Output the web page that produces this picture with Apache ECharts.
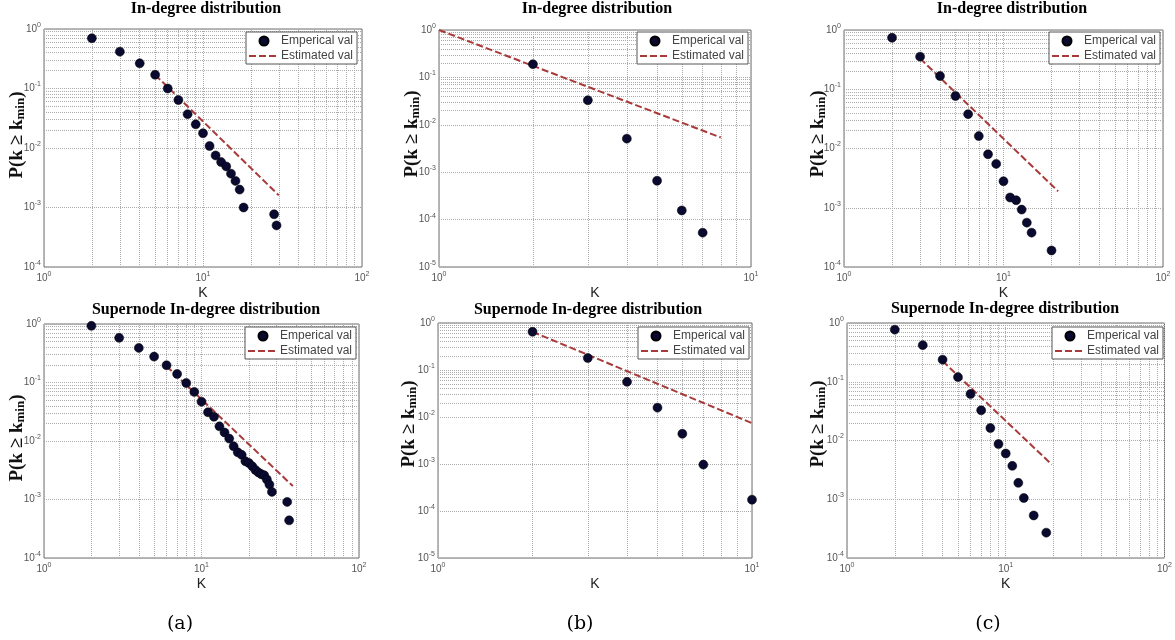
<!DOCTYPE html>
<html>
<head>
<meta charset="utf-8">
<script src="https://cdn.jsdelivr.net/npm/echarts@6/dist/echarts.min.js"></script>
<style>
  html, body { margin: 0; padding: 0; background: #fff; }
  #chart { width: 1175px; height: 640px; }
</style>
</head>
<body>
<div id="chart"></div>
<script>
// ---------------- DATA ----------------
// Row 1: "In-degree distribution"
const topA_k = [2, 3, 4, 5, 6, 7, 8, 9, 10, 11, 12, 13, 14, 15, 16, 17, 18, 28, 29];
const topA_p = [0.70, 0.416, 0.265, 0.17, 0.10, 0.064, 0.037, 0.025, 0.0177, 0.0108, 0.0075, 0.0058, 0.0049, 0.0037, 0.0028, 0.0020, 0.00100, 0.00077, 0.00050];
const topA_fitK = [5, 30];
const topA_fitP = [0.17, 0.0016];

const topB_k = [2, 3, 4, 5, 6, 7];
const topB_p = [0.19, 0.033, 0.0051, 0.00066, 0.000156, 0.000053];
const topB_fitK = [1, 8];
const topB_fitP = [1.0, 0.0054];

const topC_k = [2, 3, 4, 5, 6, 7, 8, 9, 10, 11, 12, 13, 14, 15, 20];
const topC_p = [0.74, 0.355, 0.167, 0.077, 0.038, 0.0162, 0.0080, 0.0055, 0.0028, 0.00149, 0.00134, 0.00093, 0.00056, 0.00038, 0.00019];
const topC_fitK = [3, 22];
const topC_fitP = [0.33, 0.0019];

// Row 2: "Supernode In-degree distribution"
const botA_k = [2, 3, 4, 5, 6, 7, 8, 9, 10, 11, 12, 13, 14, 15, 16, 17, 18, 19, 20, 21, 22, 23, 24, 25, 26, 27, 28, 35, 36];
const botA_p = [0.93, 0.58, 0.39, 0.277, 0.197, 0.14, 0.098, 0.069, 0.047, 0.031, 0.026, 0.0178, 0.014, 0.011, 0.0081, 0.0064, 0.0058, 0.0045, 0.0042, 0.0037, 0.0032, 0.0029, 0.0027, 0.0026, 0.0022, 0.0018, 0.00135, 0.00091, 0.00044];
const botA_fitK = [6, 38];
const botA_fitP = [0.19, 0.0017];

const botB_k = [2, 3, 4, 5, 6, 7, 10];
const botB_p = [0.65, 0.18, 0.056, 0.0158, 0.0044, 0.00097, 0.000174];
const botB_fitK = [2, 10];
const botB_fitP = [0.65, 0.0074];

const botC_k = [2, 3, 4, 5, 6, 7, 8, 9, 10, 11, 12, 13, 15, 18];
const botC_p = [0.77, 0.42, 0.238, 0.12, 0.062, 0.0327, 0.0163, 0.0087, 0.006, 0.0037, 0.0019, 0.00105, 0.00053, 0.00027];
const botC_fitK = [4, 19.5];
const botC_fitP = [0.225, 0.0039];

// axis ranges
const xMaxes = [100, 10, 100, 100, 10, 100];
const yMins = [1e-4, 1e-5, 1e-4, 1e-4, 1e-5, 1e-4];

// texts
const titles = ['In-degree distribution', 'In-degree distribution', 'In-degree distribution',
  'Supernode In-degree distribution', 'Supernode In-degree distribution', 'Supernode In-degree distribution'];
const captions = ['(a)', '(b)', '(c)'];
const seriesNames = ['Emperical val', 'Estimated val'];
const xName = 'K';
const yName = 'P(k ≥ k{m|min})';

// ---------------- LAYOUT ----------------
const grids = [
  { left: 44, top: 29, width: 318, height: 238 },
  { left: 439, top: 30, width: 312, height: 237 },
  { left: 844, top: 30, width: 319, height: 237 },
  { left: 44, top: 324, width: 315, height: 234 },
  { left: 438, top: 323, width: 314, height: 235 },
  { left: 847, top: 323, width: 318, height: 235 }
];
const titlePos = [[206, 9], [597, 9], [1012, 9], [206, 310], [588, 310], [1005, 309]];
const legendPos = [[246, 32], [637, 32], [1049, 32], [245, 327], [638, 327], [1052, 327]];
const yNamePos = [[17, 135], [412, 134], [818, 134], [17, 438], [409, 424], [818, 424]];
const captionPos = [[180, 624], [580, 624], [988, 624]];

const panels = [
  [topA_k, topA_p, topA_fitK, topA_fitP],
  [topB_k, topB_p, topB_fitK, topB_fitP],
  [topC_k, topC_p, topC_fitK, topC_fitP],
  [botA_k, botA_p, botA_fitK, botA_fitP],
  [botB_k, botB_p, botB_fitK, botB_fitP],
  [botC_k, botC_p, botC_fitK, botC_fitP]
];

// ---------------- STYLE ----------------
const gridColor = '#ababab';
const dotColor = '#0a0a30';
const fitColor = '#a83a3a';
const tickRich = {
  b: { fontSize: 10, color: '#555', fontFamily: 'Liberation Sans' },
  s: { fontSize: 7, color: '#555', fontFamily: 'Liberation Sans', padding: [0, 0, 8, 0] }
};
function tickFmt(v) {
  const e = Math.round(Math.log10(v));
  return '{b|10}{s|' + e + '}';
}
function minorValues(lo, hi) {
  const out = [];
  const a = Math.round(Math.log10(lo)), b = Math.round(Math.log10(hi));
  for (let d = a; d < b; d++) {
    for (let m = 2; m <= 9; m++) out.push(+(m * Math.pow(10, d)).toPrecision(6));
  }
  return out;
}

const option = {
  animation: false,
  backgroundColor: '#fff',
  grid: [], xAxis: [], yAxis: [], series: [], legend: [], graphic: []
};

panels.forEach((pn, i) => {
  const g = grids[i];
  option.grid.push({
    left: g.left, top: g.top, width: g.width, height: g.height,
    show: true, borderColor: '#6e6e6e', borderWidth: 1, backgroundColor: '#fff'
  });
  option.xAxis.push({
    type: 'log', logBase: 10, min: 1, max: xMaxes[i], gridIndex: i,
    name: xName, nameLocation: 'middle', nameGap: 19,
    nameTextStyle: { fontFamily: 'Liberation Sans', fontSize: 14, color: '#222' },
    axisLine: { show: false }, axisTick: { show: false },
    axisLabel: { formatter: tickFmt, rich: tickRich, margin: 4 },
    splitLine: { show: true, lineStyle: { type: 'dotted', color: gridColor, width: 1 } }
  });
  option.yAxis.push({
    type: 'log', logBase: 10, min: yMins[i], max: 1, gridIndex: i,
    axisLine: { show: false }, axisTick: { show: false },
    axisLabel: { formatter: tickFmt, rich: tickRich, margin: 3 },
    splitLine: { show: true, lineStyle: { type: 'dotted', color: gridColor, width: 1 } }
  });
  // minor grid lines (log sub-ticks 2..9 in each decade)
  const mData = [];
  minorValues(1, xMaxes[i]).forEach(v => mData.push({ xAxis: v }));
  minorValues(yMins[i], 1).forEach(v => mData.push({ yAxis: v }));
  option.series.push({
    type: 'line', xAxisIndex: i, yAxisIndex: i, data: [], z: 1, silent: true,
    markLine: {
      z: 1, zlevel: 0,
      silent: true, symbol: 'none', label: { show: false },
      lineStyle: { type: 'dotted', color: gridColor, width: 1 },
      emphasis: { disabled: true },
      data: mData
    }
  });
  option.series.push({
    name: seriesNames[0], type: 'scatter', xAxisIndex: i, yAxisIndex: i, z: 6,
    symbol: 'circle', symbolSize: 9,
    itemStyle: { color: dotColor, borderColor: '#000', borderWidth: 0.5, opacity: 1 },
    data: pn[0].map((k, j) => [k, pn[1][j]])
  });
  option.series.push({
    name: seriesNames[1], type: 'line', xAxisIndex: i, yAxisIndex: i, z: 5,
    symbol: 'none', showSymbol: false,
    lineStyle: { color: fitColor, width: 2, type: [7, 3] },
    itemStyle: { color: fitColor },
    data: pn[2].map((k, j) => [k, pn[3][j]])
  });
  option.legend.push({
    z: 8,
    data: [
      { name: seriesNames[0], icon: 'circle', itemStyle: { color: dotColor } },
      { name: seriesNames[1], itemStyle: { opacity: 0, color: 'rgba(0,0,0,0)', borderWidth: 0 } }
    ],
    orient: 'vertical', left: legendPos[i][0], top: legendPos[i][1],
    itemWidth: 30, itemHeight: 9, itemGap: 3, padding: [3, 4, 2, 2],
    borderColor: '#555', borderWidth: 1, backgroundColor: '#fff', selectedMode: false,
    textStyle: { fontFamily: 'Liberation Sans', fontSize: 12, color: '#444', padding: [0, 0, 0, -3] }
  });
  option.graphic.push({
    type: 'text', x: titlePos[i][0], y: titlePos[i][1], z: 10,
    style: { text: titles[i], align: 'center', verticalAlign: 'middle',
      font: 'bold 16px "Liberation Serif"', fill: '#000' }
  });
  option.graphic.push({
    type: 'text', x: yNamePos[i][0], y: yNamePos[i][1], rotation: Math.PI / 2, z: 10,
    style: {
      text: yName, align: 'center', verticalAlign: 'middle',
      font: 'bold 19px "Liberation Serif"', fill: '#111',
      rich: {
        m: { font: 'bold 13px "Liberation Serif"', fill: '#111', padding: [8, 0, 0, 0] }
      }
    }
  });
});
captions.forEach((c, i) => {
  option.graphic.push({
    type: 'text', x: captionPos[i][0], y: captionPos[i][1], z: 10,
    style: { text: c, align: 'center', verticalAlign: 'middle',
      font: '19px "DejaVu Serif"', fill: '#000' }
  });
});

const chart = echarts.init(document.getElementById('chart'));
chart.setOption(option);
</script>
</body>
</html>
